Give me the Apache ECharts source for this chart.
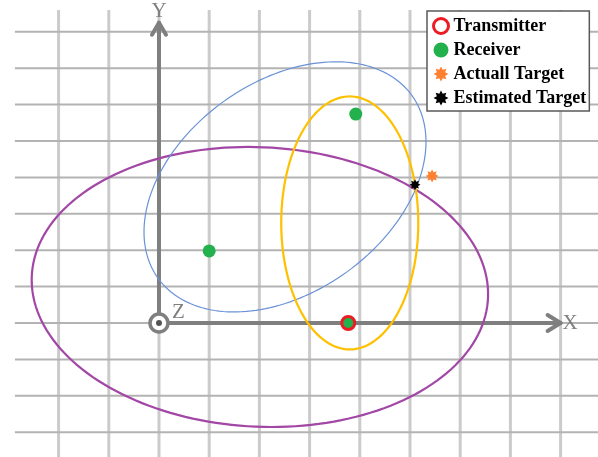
<!DOCTYPE html>
<html>
<head>
<meta charset="utf-8">
<script src="https://cdn.jsdelivr.net/npm/echarts@6/dist/echarts.min.js"></script>
<style>
html, body { margin: 0; padding: 0; background: #fff; }
#chart { width: 598px; height: 457px; }
</style>
</head>
<body>
<div id="chart"></div>
<script>
// grid lines, in grid units
var gridXs = [-2, -1, 0, 1, 2, 3, 4, 5, 6, 7, 8]
var gridYs = [-3, -2, -1, 0, 1, 2, 3, 4, 5, 6, 7, 8]
var axisNames = ['X', 'Y', 'Z']
var axisTips = [8.0, 8.25]

// ellipses: centre, semi axes, tilt in degrees
var ellipseCx = [2.01, 2.51, 3.80]
var ellipseCy = [0.99, 3.74, 2.75]
var ellipseA = [4.56, 3.72, 1.365]
var ellipseB = [3.83, 2.42, 3.475]
var ellipseTilt = [-8.4, 59.7, 0]

// points
var transmitter = [[3.77, 0]]
var receivers = [[3.77, 0], [1.0, 1.98], [3.92, 5.74]]
var actualTarget = [[5.44, 4.04]]
var estimatedTarget = [[5.10, 3.80]]

var X_MIN = -3.167, X_MAX = 8.745
var Y_MIN = -3.681, Y_MAX = 8.874
var V_TOP = 8.6, H_LEFT = -2.87

var ellipseColors = ['#a347a6', '#6a92d6', '#ffc000']
var ellipseWidths = [2.2, 1.2, 2.2]
var RED = '#ec1c24', GREEN = '#22b14c', ORANGE = '#ff8030', AXIS = '#7f7f7f'

function starPath(n, r1, r2) {
    var d = ''
    for (var i = 0; i < n * 2; i++) {
        var ang = (-90 + i * 180 / n) * Math.PI / 180
        var r = i % 2 ? r2 : r1
        d += (i ? 'L' : 'M') + (50 + r * Math.cos(ang)).toFixed(2) + ' ' + (50 + r * Math.sin(ang)).toFixed(2)
    }
    return 'path://' + d + 'Z'
}
var asterisk = starPath(8, 50, 30)

var ellipseData = ellipseCx.map(function (cx, i) {
    return [cx, ellipseCy[i], ellipseA[i], ellipseB[i], ellipseTilt[i]]
})

var chart = echarts.init(document.getElementById('chart'))

var options = {
    animation: false,
    grid: { left: 0, right: 0, top: 0, bottom: 0 },
    xAxis: { type: 'value', min: X_MIN, max: X_MAX, show: false },
    yAxis: { type: 'value', min: Y_MIN, max: Y_MAX, show: false },
    legend: {
        orient: 'vertical',
        left: 427,
        top: 11,
        padding: [6, 3, 4, 5],
        itemGap: 6,
        itemWidth: 15,
        itemHeight: 15,
        backgroundColor: '#fff',
        borderColor: '#595959',
        borderWidth: 1.5,
        borderRadius: 0,
        selectedMode: false,
        textStyle: { fontFamily: 'Liberation Serif', fontWeight: 'bold', fontSize: 18, lineHeight: 16, color: '#000' },
        data: [
            { name: 'Transmitter', itemStyle: { color: 'rgba(0,0,0,0)', borderColor: RED, borderWidth: 3, opacity: 1 } },
            'Receiver', 'Actuall Target', 'Estimated Target'
        ]
    },
    series: [
        {
            type: 'custom',
            silent: true,
            z: 1,
            data: gridXs.map(function (x) { return [x, 0] }),
            renderItem: function (params, api) {
                var p1 = api.coord([api.value(0), V_TOP])
                var p2 = api.coord([api.value(0), Y_MIN])
                return { type: 'line', shape: { x1: p1[0], y1: p1[1], x2: p2[0], y2: p2[1] },
                    style: { stroke: '#cbcbcb', lineWidth: 3 } }
            }
        },
        {
            type: 'custom',
            silent: true,
            z: 1,
            data: gridYs.map(function (y) { return [0, y] }),
            renderItem: function (params, api) {
                var p1 = api.coord([H_LEFT, api.value(1)])
                var p2 = api.coord([X_MAX, api.value(1)])
                return { type: 'line', shape: { x1: p1[0], y1: p1[1], x2: p2[0], y2: p2[1] },
                    style: { stroke: '#b3b3b3', lineWidth: 2 } }
            }
        },
        {
            // axes, arrows and origin
            type: 'custom',
            silent: true,
            z: 3,
            data: [[0, 0]],
            renderItem: function (params, api) {
                var o = api.coord([0, 0])
                var xt = api.coord([axisTips[0], 0])
                var yt = api.coord([0, axisTips[1]])
                var r = 9
                var ls = { stroke: AXIS, lineWidth: 4, lineCap: 'round', lineJoin: 'round', fill: 'none' }
                var font = { fill: AXIS, fontFamily: 'Liberation Serif', fontSize: 21 }
                return {
                    type: 'group',
                    children: [
                        { type: 'line', shape: { x1: o[0] + r, y1: o[1], x2: xt[0], y2: xt[1] }, style: ls },
                        { type: 'polyline', shape: { points: [[xt[0] - 13, xt[1] - 8], xt, [xt[0] - 13, xt[1] + 8]] }, style: ls },
                        { type: 'line', shape: { x1: o[0], y1: o[1] - r, x2: yt[0], y2: yt[1] }, style: ls },
                        { type: 'polyline', shape: { points: [[yt[0] - 7, yt[1] + 12], yt, [yt[0] + 7, yt[1] + 12]] }, style: ls },
                        { type: 'circle', shape: { cx: o[0], cy: o[1], r: r }, style: { stroke: AXIS, lineWidth: 3.5, fill: '#fff' } },
                        { type: 'circle', shape: { cx: o[0], cy: o[1], r: 3 }, style: { fill: '#555' } },
                        { type: 'text', x: xt[0] + 2, y: xt[1], style: Object.assign({ text: axisNames[0], align: 'left', verticalAlign: 'middle' }, font) },
                        { type: 'text', x: yt[0], y: yt[1] - 11, style: Object.assign({ text: axisNames[1], align: 'center', verticalAlign: 'middle' }, font) },
                        { type: 'text', x: o[0] + 13, y: o[1] - 11, style: Object.assign({ text: axisNames[2], align: 'left', verticalAlign: 'middle' }, font) }
                    ]
                }
            }
        },
        {
            type: 'custom',
            silent: true,
            z: 4,
            data: ellipseData,
            renderItem: function (params, api) {
                var cx = api.value(0), cy = api.value(1), a = api.value(2), b = api.value(3)
                var t = api.value(4) * Math.PI / 180
                var pts = []
                for (var k = 0; k < 180; k++) {
                    var s = k / 180 * Math.PI * 2
                    var x = cx + a * Math.cos(s) * Math.cos(t) - b * Math.sin(s) * Math.sin(t)
                    var y = cy + a * Math.cos(s) * Math.sin(t) + b * Math.sin(s) * Math.cos(t)
                    pts.push(api.coord([x, y]))
                }
                return { type: 'polygon', shape: { points: pts },
                    style: { fill: 'none', stroke: ellipseColors[params.dataIndex], lineWidth: ellipseWidths[params.dataIndex] } }
            }
        },
        {
            name: 'Receiver',
            type: 'scatter',
            z: 5,
            symbol: 'circle',
            symbolSize: 13,
            itemStyle: { color: GREEN, opacity: 1 },
            data: receivers
        },
        {
            name: 'Transmitter',
            type: 'scatter',
            z: 6,
            symbol: 'circle',
            symbolSize: 13,
            itemStyle: { color: 'rgba(0,0,0,0)', borderColor: RED, borderWidth: 3, opacity: 1 },
            data: transmitter
        },
        {
            name: 'Actuall Target',
            type: 'scatter',
            z: 7,
            symbol: asterisk,
            symbolSize: 13,
            itemStyle: { color: ORANGE, opacity: 1 },
            data: actualTarget
        },
        {
            name: 'Estimated Target',
            type: 'scatter',
            z: 7,
            symbol: asterisk,
            symbolSize: 11,
            itemStyle: { color: '#000', opacity: 1 },
            data: estimatedTarget
        }
    ]
}
chart.setOption(options)
window.addEventListener('resize', () => { chart.resize() }, false)
</script>
</body>
</html>
